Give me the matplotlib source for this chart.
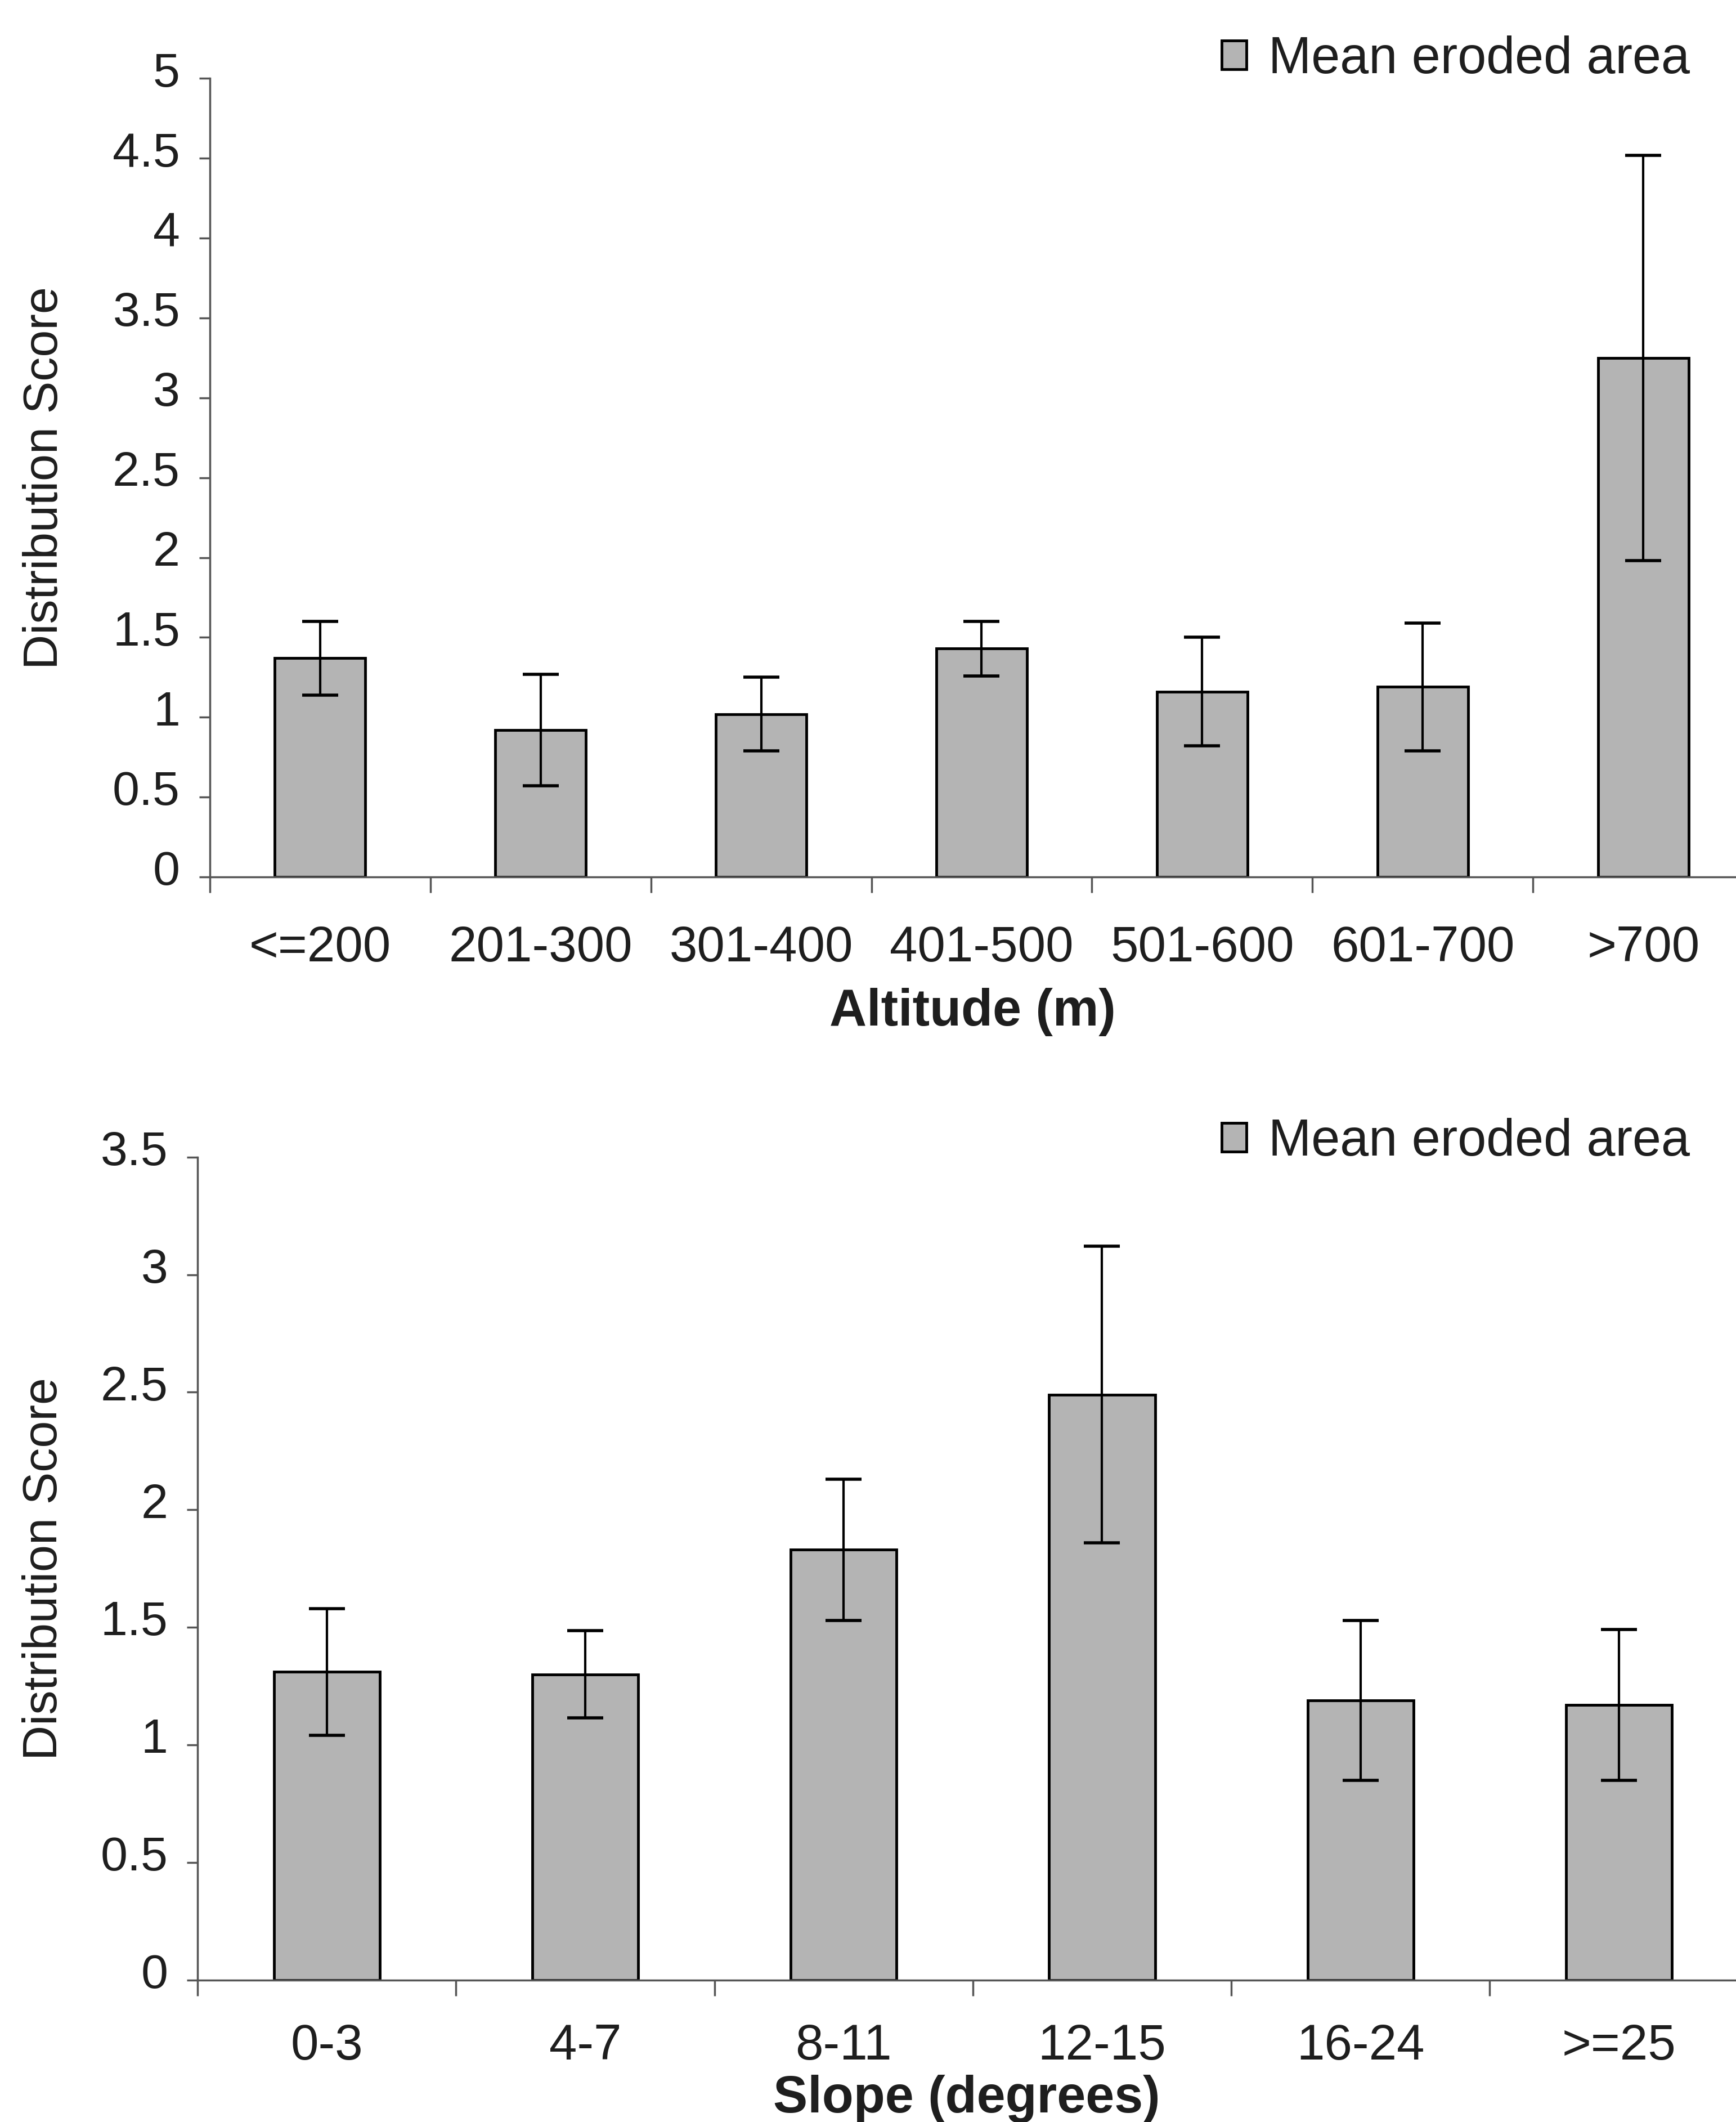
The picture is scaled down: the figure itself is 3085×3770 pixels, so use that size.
import matplotlib
matplotlib.use("Agg")
import matplotlib.pyplot as plt
import matplotlib.transforms as mtransforms
import numpy as np

plt.rcParams["font.family"] = ["Liberation Sans", "DejaVu Sans"]

# altitude panel
altitude_labels = ["<=200", "201-300", "301-400", "401-500", "501-600", "601-700", ">700"]
altitude_means = [1.37, 0.92, 1.02, 1.43, 1.16, 1.19, 3.25]
altitude_err = [0.23, 0.35, 0.23, 0.17, 0.34, 0.40, 1.27]

# slope panel
slope_labels = ["0-3", "4-7", "8-11", "12-15", "16-24", ">=25"]
slope_means = [1.31, 1.30, 1.83, 2.49, 1.19, 1.17]
slope_err = [0.27, 0.185, 0.30, 0.63, 0.34, 0.32]

legend_label = "Mean eroded area"
ylabel = "Distribution Score"

W, H = 1283, 1568  # reference layout units
fig = plt.figure(figsize=(30.85, 37.7), dpi=100)
fig.patch.set_facecolor("white")

FS = 62
BAR_COLOR = "#b4b4b4"
TXT = "#1e1e1e"


def draw_panel(ax, labels, means, errs, ymax, xlabel, cat_w_px, left_px, ylab_x,
               xpad, labelpad):
    n = len(labels)
    x = np.arange(n)
    ax.bar(x, means, width=0.41, color=BAR_COLOR, edgecolor="black", linewidth=3.5,
           label=legend_label, zorder=2)
    ax.errorbar(x, means, yerr=errs, fmt="none", ecolor="black", elinewidth=3,
                capsize=23, capthick=4, zorder=3)

    ticks = np.arange(0, ymax + 0.01, 0.5)
    ax.set_yticks(ticks)
    ax.set_yticklabels([f"{v:g}" for v in ticks])
    ax.set_xticks(x)
    ax.set_xticklabels(labels)
    ax.set_xticks(np.arange(-0.5, n, 1.0), minor=True)
    # limits last, so the ticks do not widen them
    ax.set_xlim(-0.5, -0.5 + (W - left_px) / cat_w_px)
    ax.set_ylim(0, ymax)

    for s in ["top", "right"]:
        ax.spines[s].set_visible(False)
    for s in ["left", "bottom"]:
        ax.spines[s].set_color("#555555")
        ax.spines[s].set_linewidth(2.5)

    ax.tick_params(axis="y", direction="out", length=14, width=2.5, color="#555555",
                   labelsize=FS, labelcolor=TXT, pad=24)
    ax.tick_params(axis="x", which="major", length=0, labelsize=64, labelcolor=TXT, pad=xpad)
    ax.tick_params(axis="x", which="minor", direction="out", length=20, width=2.5,
                   color="#555555")

    # tick labels sit a bit above their ticks in the original
    off = mtransforms.ScaledTranslation(0, 12 / 72, fig.dpi_scale_trans)
    for lab in ax.get_yticklabels():
        lab.set_transform(lab.get_transform() + off)

    ax.set_xlabel(xlabel, fontsize=66, fontweight="bold", color=TXT, labelpad=labelpad)
    ax.set_ylabel(ylabel, fontsize=FS, color=TXT)
    ax.yaxis.set_label_coords(ylab_x, 0.5)
    ax.set_facecolor("white")


# top panel
l1 = 155 / W
ax1 = fig.add_axes([l1, 1 - 648 / H, 1 - l1, (648 - 58) / H])
draw_panel(ax1, altitude_labels, altitude_means, altitude_err, 5, "Altitude (m)",
           163, 155, -0.093, 61, 20)

# bottom panel
l2 = 146 / W
ax2 = fig.add_axes([l2, 1 - 1463 / H, 1 - l2, (1463 - 855) / H])
draw_panel(ax2, slope_labels, slope_means, slope_err, 3.5, "Slope (degrees)",
           191, 146, -0.085, 55, 6)

for ax, ytxt in [(ax1, 44), (ax2, 844)]:
    ax.legend(loc="center left", bbox_to_anchor=(903 / W, 1 - ytxt / H),
              bbox_transform=fig.transFigure, frameon=False, fontsize=66,
              handlelength=0.48, handleheight=0.48, handletextpad=0.42,
              borderpad=0, borderaxespad=0, labelcolor=TXT)

fig.savefig("out.png", dpi=100, facecolor="white")
